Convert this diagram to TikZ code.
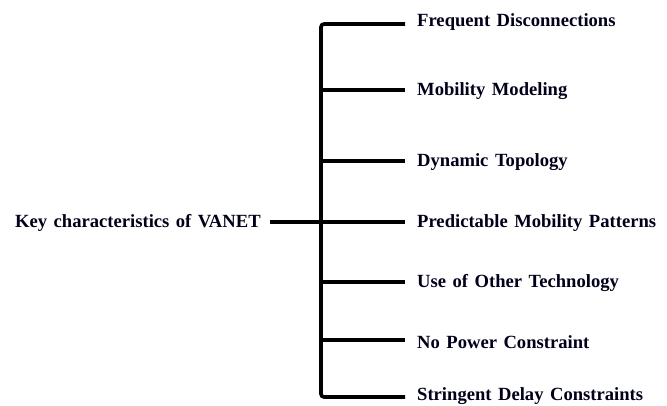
\documentclass[tikz,border=0pt]{standalone}
\usepackage{fontspec}
\setmainfont[WordSpace={1.4}]{Liberation Serif}
\begin{document}
\begin{tikzpicture}[x=1pt,y=-1pt,
  lbl/.style={font=\bfseries\fontsize{18.6}{20}\selectfont, anchor=west, inner sep=0pt, text=black!90!blue},
  ln/.style={line width=3.6pt, black}]
\useasboundingbox (0,0) rectangle (667,406);
\node[lbl] (root) at (15,223) {Key characteristics of VANET};
\coordinate (rs) at (270,222);
\coordinate (j) at (321,222);
\coordinate (top) at (321,24);
\coordinate (bot) at (321,397);
\coordinate (e1) at (405,24);
\coordinate (e2) at (405,90);
\coordinate (e3) at (405,161);
\coordinate (e4) at (405,222);
\coordinate (e5) at (405,282);
\coordinate (e6) at (405,340);
\coordinate (e7) at (405,397);
\node[lbl] (c1) at (417,22) {Frequent Disconnections};
\node[lbl] (c2) at (417,91) {Mobility Modeling};
\node[lbl] (c3) at (417,162) {Dynamic Topology};
\node[lbl] (c4) at (417,223) {Predictable Mobility Patterns};
\node[lbl] (c5) at (417,283) {Use of Other Technology};
\node[lbl] (c6) at (417,342) {No Power Constraint};
\node[lbl] (c7) at (417,396) {Stringent Delay Constraints};
\draw[ln] (rs) -- (j);
\draw[ln, rounded corners=3pt] (e1) -- (top) -- (bot) -- (e7);
\foreach \i in {2,...,6} { \draw[ln] (j |- e\i) -- (e\i); }
\end{tikzpicture}
\end{document}
